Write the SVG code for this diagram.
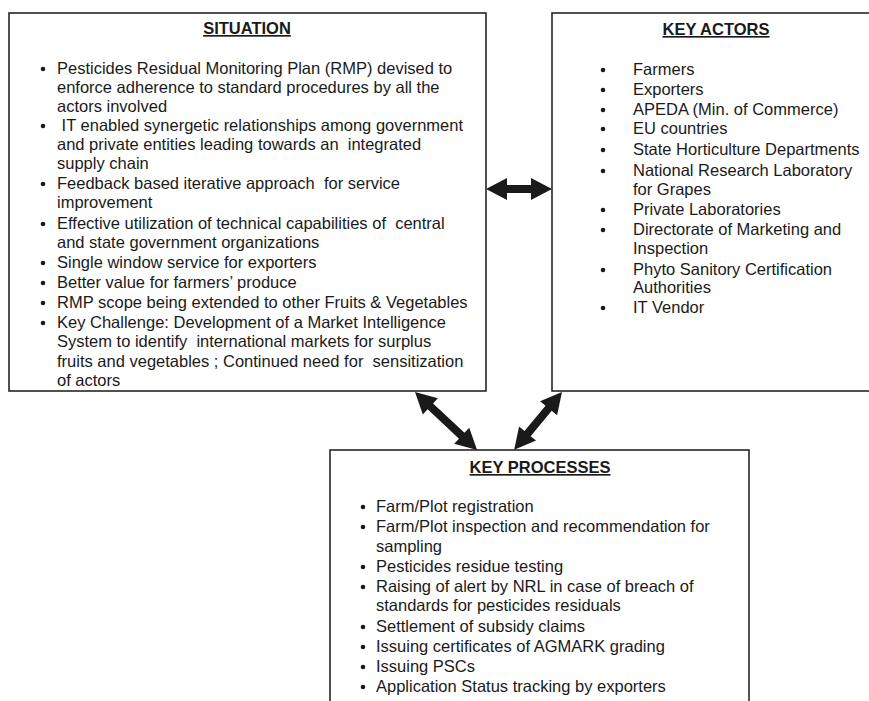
<svg xmlns="http://www.w3.org/2000/svg" width="869" height="701" viewBox="0 0 869 701">
  <style>
    .box { fill: #ffffff; stroke: #262626; stroke-width: 1.6; }
    .title { font-family: "Liberation Sans", Arial, sans-serif; font-size: 16.5px; font-weight: bold; fill: #1a1a1a; text-anchor: middle; text-decoration: underline; }
    .body { font-family: "Liberation Sans", Arial, sans-serif; font-size: 16.5px; fill: #1a1a1a; white-space: pre; }
    .dot { fill: #1a1a1a; }
    .arrow { fill: #1a1a1a; }
  </style>
  <rect width="869" height="701" fill="#ffffff"/>

  <!-- Situation -->
  <g id="situation">
    <rect class="box" x="9" y="13" width="477" height="378"/>
    <text class="title" x="247" y="34">SITUATION</text>
    <g class="dot">
      <circle cx="43" cy="69" r="2.3"/>
      <circle cx="43" cy="126" r="2.3"/>
      <circle cx="43" cy="184" r="2.3"/>
      <circle cx="43" cy="224" r="2.3"/>
      <circle cx="43" cy="263" r="2.3"/>
      <circle cx="43" cy="283" r="2.3"/>
      <circle cx="43" cy="303" r="2.3"/>
      <circle cx="43" cy="323" r="2.3"/>
    </g>
    <text class="body" x="57" y="74">Pesticides Residual Monitoring Plan (RMP) devised to</text>
    <text class="body" x="57" y="93">enforce adherence to standard procedures by all the</text>
    <text class="body" x="57" y="112">actors involved</text>
    <text class="body" x="57" y="131"> IT enabled synergetic relationships among government</text>
    <text class="body" x="57" y="150">and private entities leading towards an  integrated</text>
    <text class="body" x="57" y="169">supply chain</text>
    <text class="body" x="57" y="189">Feedback based iterative approach  for service</text>
    <text class="body" x="57" y="208">improvement</text>
    <text class="body" x="57" y="229">Effective utilization of technical capabilities of  central</text>
    <text class="body" x="57" y="248">and state government organizations</text>
    <text class="body" x="57" y="268">Single window service for exporters</text>
    <text class="body" x="57" y="288">Better value for farmers’ produce</text>
    <text class="body" x="57" y="308">RMP scope being extended to other Fruits &amp; Vegetables</text>
    <text class="body" x="57" y="328">Key Challenge: Development of a Market Intelligence</text>
    <text class="body" x="57" y="347">System to identify  international markets for surplus</text>
    <text class="body" x="57" y="367">fruits and vegetables ; Continued need for  sensitization</text>
    <text class="body" x="57" y="386">of actors</text>
  </g>

  <!-- Key actors -->
  <g id="key-actors">
    <rect class="box" x="552" y="13" width="330" height="378"/>
    <text class="title" x="716" y="35">KEY ACTORS</text>
    <g class="dot">
      <circle cx="603" cy="70" r="2.3"/>
      <circle cx="603" cy="90" r="2.3"/>
      <circle cx="603" cy="110" r="2.3"/>
      <circle cx="603" cy="129" r="2.3"/>
      <circle cx="603" cy="150" r="2.3"/>
      <circle cx="603" cy="171" r="2.3"/>
      <circle cx="603" cy="210" r="2.3"/>
      <circle cx="603" cy="230" r="2.3"/>
      <circle cx="603" cy="270" r="2.3"/>
      <circle cx="603" cy="308" r="2.3"/>
    </g>
    <text class="body" x="633" y="75">Farmers</text>
    <text class="body" x="633" y="95">Exporters</text>
    <text class="body" x="633" y="115">APEDA (Min. of Commerce)</text>
    <text class="body" x="633" y="134">EU countries</text>
    <text class="body" x="633" y="155">State Horticulture Departments</text>
    <text class="body" x="633" y="176">National Research Laboratory</text>
    <text class="body" x="633" y="195">for Grapes</text>
    <text class="body" x="633" y="215">Private Laboratories</text>
    <text class="body" x="633" y="235">Directorate of Marketing and</text>
    <text class="body" x="633" y="254">Inspection</text>
    <text class="body" x="633" y="275">Phyto Sanitory Certification</text>
    <text class="body" x="633" y="293">Authorities</text>
    <text class="body" x="633" y="313">IT Vendor</text>
  </g>

  <!-- Key processes -->
  <g id="key-processes">
    <rect class="box" x="330" y="450" width="419" height="260"/>
    <text class="title" x="540" y="473">KEY PROCESSES</text>
    <g class="dot">
      <circle cx="363" cy="507" r="2.3"/>
      <circle cx="363" cy="527" r="2.3"/>
      <circle cx="363" cy="567" r="2.3"/>
      <circle cx="363" cy="587" r="2.3"/>
      <circle cx="363" cy="627" r="2.3"/>
      <circle cx="363" cy="647" r="2.3"/>
      <circle cx="363" cy="667" r="2.3"/>
      <circle cx="363" cy="687" r="2.3"/>
    </g>
    <text class="body" x="376" y="512">Farm/Plot registration</text>
    <text class="body" x="376" y="532">Farm/Plot inspection and recommendation for</text>
    <text class="body" x="376" y="552">sampling</text>
    <text class="body" x="376" y="572">Pesticides residue testing</text>
    <text class="body" x="376" y="592">Raising of alert by NRL in case of breach of</text>
    <text class="body" x="376" y="611">standards for pesticides residuals</text>
    <text class="body" x="376" y="632">Settlement of subsidy claims</text>
    <text class="body" x="376" y="652">Issuing certificates of AGMARK grading</text>
    <text class="body" x="376" y="672">Issuing PSCs</text>
    <text class="body" x="376" y="692">Application Status tracking by exporters</text>
  </g>

  <!-- Two-headed connectors, drawn along the x-axis and placed by transform -->
  <g id="connectors" class="arrow">
    <path transform="translate(486,189)" d="M0,0 L21,-11 L21,-4 L45,-4 L45,-11 L66,0 L45,11 L45,4 L21,4 L21,11 Z"/>
    <path transform="translate(415,392) rotate(43.1)" d="M0,0 L21,-11 L21,-4 L64,-4 L64,-11 L85,0 L64,11 L64,4 L21,4 L21,11 Z"/>
    <path transform="translate(562,392) rotate(129.6)" d="M0,0 L21,-11 L21,-4 L54,-4 L54,-11 L75,0 L54,11 L54,4 L21,4 L21,11 Z"/>
  </g>
</svg>
